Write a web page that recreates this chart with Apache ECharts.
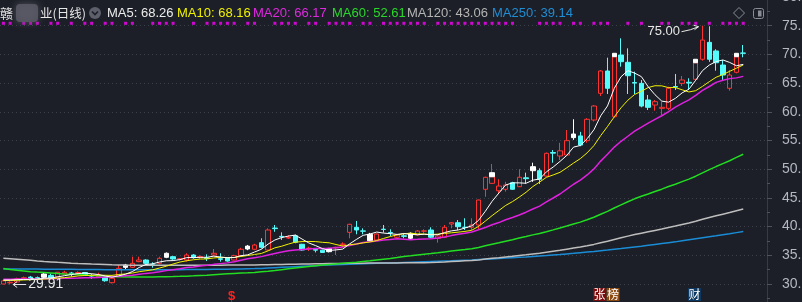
<!DOCTYPE html>
<html><head><meta charset="utf-8">
<script src="https://cdn.jsdelivr.net/npm/echarts@6/dist/echarts.min.js"></script>
<style>html,body{margin:0;padding:0;background:#1c1f27;overflow:hidden}#c{width:802px;height:302px}</style>
</head><body><div id="c"></div>
<script>
// ---- data ----
// each row: [open, close, low, high]
const ohlc = [
[30.00,30.55,29.95,30.70],[30.20,30.30,29.91,30.50],[30.35,30.90,30.20,31.10],[30.90,31.10,30.70,31.30],[31.20,31.00,30.80,31.40],
[31.10,30.90,30.70,31.30],[31.74,31.17,31.00,31.90],[31.50,31.10,30.90,31.80],[31.27,32.04,31.20,32.10],[31.74,32.04,31.60,32.30],
[31.90,31.86,31.27,32.10],[31.80,32.00,31.60,32.20],[32.00,31.60,31.50,32.10],[31.45,31.40,30.90,31.80],[31.30,31.40,31.10,31.97],
[31.27,30.57,30.40,31.40],[30.23,30.99,30.10,31.10],[31.27,32.73,31.20,33.30],[33.30,32.90,32.60,33.50],[32.91,33.60,32.80,34.76],
[33.90,34.18,33.80,34.76],[34.18,33.60,33.43,34.30],[33.35,33.30,32.84,33.78],[33.60,34.48,33.43,34.76],[35.35,34.65,34.50,35.50],
[34.76,34.36,34.20,34.90],[34.30,34.40,34.10,34.50],[34.18,35.05,33.90,35.35],[35.05,34.58,34.40,35.20],[34.60,34.80,34.40,35.00],
[34.55,34.45,34.00,35.17],[35.05,35.35,34.90,36.10],[34.40,34.30,33.90,35.35],[34.58,34.00,33.90,34.70],[34.18,34.93,34.10,35.10],
[34.93,36.05,34.80,36.30],[36.60,36.10,35.90,36.80],[36.05,36.79,35.90,37.00],[37.20,36.39,36.20,37.96],[35.92,39.41,35.90,39.70],
[39.75,39.65,39.10,40.28],[38.30,38.20,37.67,39.00],[38.00,38.10,37.84,38.50],[38.41,37.26,37.10,38.60],[36.92,35.92,35.80,37.00],
[36.15,36.25,35.75,36.50],[36.00,35.90,35.50,36.20],[35.90,35.50,35.40,36.00],[36.20,35.63,35.50,36.30],[36.30,36.40,35.05,36.50],
[36.90,36.97,36.50,37.26],[39.00,40.40,37.96,40.50],[39.88,39.41,38.66,40.98],[39.25,39.20,38.66,39.70],[38.66,37.54,37.40,38.90],
[37.67,38.71,37.50,38.80],[39.55,39.50,38.94,40.28],[38.98,38.90,38.36,39.53],[38.14,38.54,38.00,38.70],[38.40,38.30,37.96,38.83],
[38.83,37.96,37.80,39.00],[38.54,39.23,38.40,39.40],[39.20,39.25,38.83,39.53],[39.41,38.14,37.96,39.88],[37.96,38.36,37.20,38.50],
[38.14,39.88,38.00,40.28],[40.45,40.68,39.70,40.80],[40.68,39.98,39.41,41.15],[39.90,39.85,39.41,41.45],[39.88,40.28,39.41,41.45],
[40.28,44.63,39.50,44.70],[46.50,48.59,45.20,48.69],[47.54,48.69,47.42,50.90],[46.25,47.07,45.80,48.24],[46.50,47.25,46.10,47.80],
[47.65,46.50,46.40,47.80],[46.95,48.60,46.90,50.00],[48.50,48.35,47.50,49.40],[50.44,49.74,47.80,51.13],[49.74,48.24,47.42,50.15],
[48.80,52.77,48.70,52.90],[52.90,52.80,51.13,53.34],[52.30,53.20,51.60,54.60],[52.47,54.97,52.40,56.83],[56.13,55.50,55.10,58.70],
[55.80,54.20,54.00,56.50],[54.97,58.69,54.60,58.90],[58.57,61.01,58.30,61.18],[63.22,67.11,62.75,67.28],[67.11,64.10,63.10,69.43],
[59.15,69.60,59.00,70.19],[69.90,68.73,67.86,72.80],[68.62,66.29,63.10,71.06],[65.10,65.00,63.10,67.00],[64.96,61.00,60.78,65.54],
[62.06,60.78,60.31,62.93],[61.18,61.76,60.19,62.06],[60.60,60.78,59.44,61.76],[60.60,64.10,60.31,64.37],[64.40,64.30,63.80,66.59],
[64.96,65.54,64.50,66.24],[65.15,65.00,63.80,65.84],[65.66,68.55,65.50,69.15],[69.15,72.50,68.90,75.00],[72.10,69.15,68.70,74.90],
[70.60,68.55,67.16,70.89],[68.15,66.41,65.54,69.02],[64.10,66.41,63.68,67.28],[66.88,69.60,66.70,70.19],[70.25,70.19,69.50,71.64]
];
const days = ohlc.map((_, i) => 'D' + (i + 1));
const padDays = ['p1', 'p2', 'p3'];
const whiteDays = [6, 18, 24, 36, 48, 54, 60, 78, 84];
const capDays = [72, 90, 102, 108];
const capTops = [49.39, 70.19, 69.15, 70.19];
const signalDays = [0,1,3,4,5,7,8,10,12,13,15,16,18,19,22,23,24,25,28,30,31,32,33,34,36,37,40,41,42,43,45,46,48,49,50,51,53,54,56,57,58,59,60,61,62,64,65,66,67,68,69,70,71,72,73,74,75,79,80,81,82,84,85,87,88,89,92,94,97,98,100,101,102,104,106,107,108,109];
const signalLevel = 75.42;

const ma5 = [30.70,30.70,30.75,30.80,30.77,30.84,31.01,31.05,31.24,31.45,31.64,31.81,31.91,31.78,31.65,31.39,31.19,31.42,31.72,32.16,
32.88,33.40,33.52,33.83,34.04,34.08,34.24,34.59,34.61,34.64,34.66,34.85,34.70,34.58,34.61,34.93,35.08,35.57,36.05,36.95,
37.67,38.09,38.35,38.52,37.83,37.15,36.69,36.17,35.84,35.94,36.08,36.98,37.76,38.48,38.70,39.05,38.87,38.77,38.64,38.79,
38.64,38.59,38.66,38.58,38.59,38.97,39.26,39.41,39.75,40.13,41.08,42.67,44.41,45.85,47.25,47.62,47.62,47.55,48.09,48.29,
49.54,50.38,51.35,52.40,53.85,54.13,55.31,56.87,59.30,61.02,64.10,66.11,67.17,66.74,66.12,64.36,62.97,61.86,61.68,62.34,
63.30,63.94,65.50,67.18,68.15,68.75,69.03,68.60,68.02,68.26];
const ma10 = [30.60,30.62,30.65,30.70,30.75,30.80,30.86,30.93,31.02,31.11,31.24,31.41,31.48,31.51,31.55,31.52,31.50,31.66,31.75,31.91,
32.14,32.30,32.47,32.78,33.10,33.48,33.82,34.05,34.22,34.34,34.37,34.54,34.64,34.59,34.62,34.79,34.96,35.14,35.32,35.78,
36.30,36.58,36.96,37.29,37.39,37.41,37.39,37.26,37.18,36.88,36.61,36.83,36.96,37.16,37.32,37.57,37.93,38.27,38.56,38.75,
38.85,38.73,38.71,38.61,38.69,38.81,38.92,39.03,39.16,39.36,40.03,40.96,41.91,42.80,43.69,44.35,45.14,45.98,46.97,47.77,
48.58,49.00,49.45,50.24,51.07,51.84,52.85,54.11,55.85,57.44,59.12,60.71,62.02,63.02,63.57,64.23,64.54,64.52,64.21,64.23,
63.83,63.46,63.68,64.43,65.25,66.02,66.49,67.05,67.60,68.16];
const ma20 = [30.82,30.83,30.85,30.86,30.87,30.88,30.90,30.92,30.95,30.98,31.00,31.03,31.07,31.10,31.15,31.20,31.27,31.33,31.42,31.51,
31.69,31.85,31.97,32.14,32.33,32.50,32.66,32.86,32.98,33.12,33.25,33.42,33.55,33.68,33.86,34.14,34.39,34.59,34.77,35.06,
35.33,35.56,35.80,35.94,36.00,36.10,36.17,36.20,36.25,36.33,36.46,36.71,36.96,37.22,37.35,37.49,37.66,37.76,37.87,37.81,
37.73,37.78,37.84,37.88,38.00,38.19,38.43,38.65,38.86,39.05,39.44,39.85,40.31,40.70,41.19,41.58,42.03,42.51,43.07,43.56,
44.30,44.98,45.68,46.52,47.38,48.09,49.00,50.05,51.41,52.60,53.85,54.86,55.74,56.63,57.32,58.03,58.69,59.31,60.03,60.83,
61.47,62.08,62.85,63.73,64.41,65.13,65.51,65.78,65.91,66.17];
const ma60 = [32.70,32.52,32.38,32.27,32.15,32.07,32.00,31.92,31.82,31.75,31.70,31.64,31.55,31.48,31.42,31.35,31.30,31.26,31.22,31.21,
31.21,31.22,31.24,31.26,31.28,31.30,31.33,31.37,31.42,31.48,31.54,31.62,31.70,31.78,31.85,31.90,31.95,32.02,32.12,32.22,
32.35,32.50,32.65,32.80,32.93,33.06,33.18,33.30,33.40,33.50,33.60,33.70,33.80,33.92,34.04,34.17,34.30,34.43,34.60,34.79,
34.91,35.06,35.20,35.31,35.44,35.59,35.74,35.89,36.02,36.16,36.37,36.65,36.93,37.19,37.46,37.72,38.02,38.28,38.56,38.80,
39.11,39.43,39.76,40.10,40.45,40.78,41.19,41.62,42.16,42.65,43.24,43.79,44.33,44.84,45.28,45.69,46.12,46.52,46.98,47.39,
47.83,48.27,48.78,49.37,49.92,50.46,50.97,51.48,52.05,52.61];
const ma120 = [34.48,34.40,34.32,34.22,34.12,34.02,33.93,33.85,33.77,33.70,33.63,33.57,33.52,33.47,33.43,33.39,33.35,33.32,33.29,33.27,
33.26,33.25,33.25,33.25,33.25,33.25,33.25,33.26,33.26,33.27,33.27,33.28,33.28,33.29,33.30,33.31,33.32,33.33,33.35,33.37,
33.39,33.41,33.43,33.45,33.47,33.49,33.51,33.53,33.55,33.57,33.59,33.61,33.62,33.63,33.64,33.65,33.66,33.67,33.68,33.69,
33.70,33.71,33.72,33.74,33.79,33.85,33.92,33.98,34.04,34.10,34.20,34.34,34.47,34.59,34.72,34.83,34.97,35.10,35.24,35.37,
35.54,35.71,35.88,36.07,36.26,36.44,36.66,36.90,37.19,37.45,37.76,38.06,38.34,38.61,38.85,39.09,39.33,39.57,39.83,40.09,
40.37,40.64,40.94,41.27,41.58,41.88,42.16,42.44,42.75,43.06];
const ma250 = [32.62,32.62,32.61,32.61,32.60,32.60,32.59,32.58,32.57,32.56,32.55,32.54,32.53,32.52,32.51,32.50,32.50,32.49,32.49,32.48,
32.48,32.48,32.48,32.49,32.49,32.50,32.50,32.51,32.52,32.53,32.54,32.55,32.56,32.58,32.60,32.62,32.65,32.68,32.72,32.78,
32.84,32.90,32.96,33.02,33.08,33.14,33.20,33.26,33.31,33.36,33.40,33.44,33.48,33.52,33.56,33.60,33.64,33.68,33.72,33.76,
33.80,33.84,33.88,33.92,33.96,34.00,34.04,34.09,34.14,34.19,34.25,34.31,34.37,34.44,34.51,34.58,34.65,34.72,34.80,34.88,
34.96,35.05,35.14,35.24,35.34,35.45,35.56,35.67,35.79,35.91,36.04,36.17,36.31,36.45,36.59,36.74,36.89,37.04,37.19,37.34,
37.55,37.72,37.89,38.06,38.23,38.40,38.58,38.76,38.95,39.14];
const highLabel = '75.00', highDay = 103;
const lowLabel = '29.91', lowDay = 1;
const legendItems = [
  {name:'MA5', value:'68.26'}, {name:'MA10', value:'68.16'}, {name:'MA20', value:'66.17'},
  {name:'MA60', value:'52.61'}, {name:'MA120', value:'43.06'}, {name:'MA250', value:'39.14'}
];

// ---- styles ----
const BG = '#1c1f27', UP = '#ff3232', DOWN = '#54fcfc', WHITE = '#ffffff';
const maColors = ['#ffffff', '#f2f200', '#e020e0', '#22dd22', '#bdbdbd', '#1a8cd6'];
const legendX = [107, 177, 253, 332, 407, 492];
const legendColors = ['#ececec', '#f0f000', '#e028e0', '#2ad82a', '#b4b4b4', '#1e8ed6'];

const chart = echarts.init(document.getElementById('c'), null, {renderer: 'canvas'});

const candleData = ohlc.map((d, i) => whiteDays.includes(i)
  ? {value: d, itemStyle: {color: WHITE, color0: WHITE, borderColor: WHITE, borderColor0: WHITE}}
  : d);
const capData = ohlc.map((d, i) => {
  const k = capDays.indexOf(i);
  return k < 0 ? ['-', '-', '-', '-'] : [d[1], capTops[k], d[1], capTops[k]];
});

function line(name, data, color, width) {
  return {name, type: 'line', data, symbol: 'none', smooth: false, silent: true,
    lineStyle: {color, width}, itemStyle: {color}, z: 3};
}

const txt = (x, y, text, fill, font, extra) => Object.assign({
  type: 'text', x, y, z: 100,
  style: {text, fill, font, textAlign: 'left', textVerticalAlign: 'middle', align: 'left', verticalAlign: 'middle'}
}, extra || {});

const graphics = [];
// header
graphics.push(txt(0, 13, '赣', '#e6e6e6', '13px "Noto Sans CJK SC"'));
graphics.push({type: 'rect', z: 100, shape: {x: 16, y: 4, width: 22, height: 18, r: 4},
  style: {fill: '#5a5966', shadowBlur: 8, shadowColor: '#5a5966', opacity: 0.85}});
graphics.push(txt(40, 13, '业(日线)', '#e6e6e6', '12.5px "Noto Sans CJK SC"'));
graphics.push({type: 'circle', z: 100, shape: {cx: 95, cy: 13, r: 6}, style: {fill: '#5d606a'}});
graphics.push({type: 'polyline', z: 101, shape: {points: [[92, 11.5], [95, 14.5], [98, 11.5]]},
  style: {stroke: '#1c1f27', lineWidth: 1.6, fill: null}});
legendItems.forEach((it, k) => graphics.push(txt(legendX[k], 13, it.name + ': ' + it.value, legendColors[k], '13px "Liberation Sans", Arial')));
graphics.push({type: 'polygon', z: 100, shape: {points: [[739, 7.5], [744.5, 13], [739, 18.5], [733.5, 13]]},
  style: {stroke: '#8a8d96', fill: null, lineWidth: 1}});
graphics.push({type: 'rect', z: 100, shape: {x: 753.5, y: 8.5, width: 10, height: 10, r: 2},
  style: {stroke: '#8a8d96', fill: null, lineWidth: 1}});
graphics.push({type: 'rect', z: 100, shape: {x: 758, y: 10.5, width: 3.5, height: 6}, style: {fill: '#8a8d96'}});
// bottom event markers
graphics.push(txt(228, 296, '$', '#ff2020', 'bold 13px "Liberation Sans", Arial'));
[[593, '张', '#7c0c0c'], [606.5, '榜', '#8a4a12'], [688, '财', '#0c3862']].forEach(([x, t, c]) => {
  graphics.push({type: 'rect', z: 100, shape: {x, y: 288, width: 13, height: 13}, style: {fill: c}});
  graphics.push(txt(x + 0.5, 294.5, t, '#ffffff', '12px "Noto Sans CJK SC"'));
});

const option = {
  backgroundColor: BG,
  animation: false,
  grid: {left: 0, right: 35, top: -3, bottom: -10.7, containLabel: false, outerBoundsMode: 'none'},
  xAxis: {type: 'category', data: days.concat(padDays), boundaryGap: true, show: false},
  yAxis: {
    type: 'value', position: 'right', min: 25, max: 80, interval: 5,
    axisLine: {show: true, lineStyle: {color: '#363b47'}},
    axisTick: {show: true, length: 5, lineStyle: {color: '#4c525e'}},
    minorTick: {show: true, splitNumber: 2, length: 3, lineStyle: {color: '#4c525e'}},
    axisLabel: {color: '#b4b8c2', fontSize: 14, margin: 15, fontFamily: '"Liberation Sans", Arial',
      formatter: v => v.toFixed(2)},
    splitLine: {show: true, lineStyle: {color: '#3c404b', type: [1, 3], width: 1}}
  },
  graphic: {elements: graphics},
  series: [
    {type: 'candlestick', data: candleData, barWidth: 5, silent: true, z: 2,
      itemStyle: {color: 'transparent', color0: DOWN, borderColor: UP, borderColor0: DOWN, borderWidth: 1}},
    {type: 'candlestick', data: capData, barWidth: 5, silent: true, z: 2,
      itemStyle: {color: WHITE, color0: WHITE, borderColor: WHITE, borderColor0: WHITE, borderWidth: 1}},
    line('MA250', ma250, maColors[5], 1.5),
    line('MA120', ma120, maColors[4], 1.5),
    line('MA60', ma60, maColors[3], 1.5),
    line('MA20', ma20, maColors[2], 1.5),
    line('MA10', ma10, maColors[1], 1),
    line('MA5', ma5, maColors[0], 1),
    {type: 'scatter', data: signalDays.map(i => [i, signalLevel]), symbol: 'rect', symbolSize: [3, 3],
      itemStyle: {color: '#ff00ff'}, silent: true, z: 4}
  ]
};
chart.setOption(option);

// high / low annotations anchored to the data through the chart's own scales
function addMarks() {
  const hp = chart.convertToPixel({gridIndex: 0}, [highDay, ohlc[highDay][3]]);
  const lp = chart.convertToPixel({gridIndex: 0}, [lowDay, ohlc[lowDay][2]]);
  const els = graphics.slice();
  const hx = hp[0] - 4, hy = hp[1] + 1;
  els.push({type: 'polyline', z: 100, shape: {points: [[hx - 17, hy + 5], [hx - 8, hy + 3], [hx, hy]]},
    style: {stroke: '#e8e8e8', lineWidth: 1, fill: null}});
  els.push({type: 'polyline', z: 100, shape: {points: [[hx - 5, hy - 1.5], [hx, hy], [hx - 4, hy + 3]]},
    style: {stroke: '#e8e8e8', lineWidth: 1, fill: null}});
  els.push(txt(hx - 51, hy + 5, highLabel, '#e6e6e6', '13px "Liberation Sans", Arial'));
  const lx = lp[0] + 3, ly = lp[1];
  els.push({type: 'line', z: 100, shape: {x1: lx, y1: ly, x2: lx + 13, y2: ly}, style: {stroke: '#e8e8e8', lineWidth: 1}});
  els.push({type: 'polyline', z: 100, shape: {points: [[lx + 4, ly - 3], [lx, ly], [lx + 4, ly + 3]]},
    style: {stroke: '#e8e8e8', lineWidth: 1, fill: null}});
  els.push(txt(lx + 15, ly, lowLabel, '#e8e8e8', '14px "Liberation Sans", Arial'));
  chart.setOption({graphic: {elements: els}}, {replaceMerge: ['graphic']});
}
addMarks();
</script>
</body></html>
